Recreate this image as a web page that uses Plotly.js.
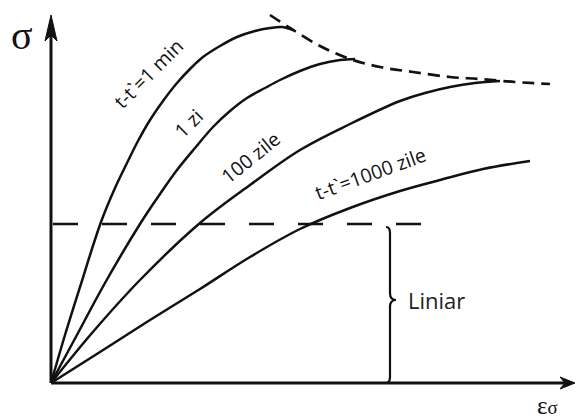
<!DOCTYPE html>
<html>
<head>
<meta charset="utf-8">
<script src="https://cdn.plot.ly/plotly-3.0.1.min.js"></script>
<style>html,body{margin:0;padding:0;background:#fff;}#chart{width:576px;height:419px;}</style>
</head>
<body>
<div id="chart"></div>
<script>
// Strain (ε) and stress (σ) values, arbitrary units
var eps1min = [0, 1.4, 2.9, 5.0, 6.4, 7.6, 8.7, 9.9, 11.2, 12.6, 13.9, 15.2, 16.9, 18.6, 20.4, 21.9, 23.1, 24.2];
var sig1min = [0, 4.8, 9.6, 16.1, 19.5, 22.0, 24.2, 26.3, 28.2, 30.0, 31.4, 32.6, 33.7, 34.6, 35.2, 35.5, 35.6, 35.3];

var eps1zi = [0, 2.7, 5.4, 8.9, 10.9, 12.6, 14.4, 16.2, 17.9, 19.6, 21.4, 22.9, 24.9, 26.9, 28.9, 30.4];
var sig1zi = [0, 5.0, 10.0, 15.9, 18.9, 21.3, 23.5, 25.6, 27.2, 28.5, 29.5, 30.3, 31.2, 31.9, 32.3, 32.4];

var eps100 = [0, 4.1, 8.9, 14.9, 19.9, 24.9, 29.9, 34.9, 37.4, 39.9, 42.4, 44.9];
var sig100 = [0, 5.0, 10.3, 16.0, 19.8, 23.3, 25.9, 28.2, 29.0, 29.6, 30.0, 30.2];

var eps1000 = [0, 4.9, 9.9, 14.9, 19.9, 24.9, 29.9, 34.9, 38.9, 43.2, 47.9];
var sig1000 = [0, 3.1, 6.3, 9.4, 12.6, 15.4, 17.5, 19.2, 20.3, 21.4, 22.2];

var epsEnv = [21.9, 23.9, 26.9, 29.9, 32.9, 36.2, 39.9, 42.9, 46.4, 49.9];
var sigEnv = [36.8, 35.5, 33.7, 32.4, 31.6, 31.1, 30.6, 30.4, 30.1, 29.9];

var linearLimit = 15.9;          // σ of the horizontal dashed line
var linearLineEps = [0.2, 37.4]; // extent of the dashed line
var braceEps = 33.9;             // ε where the "Liniar" brace sits
var braceTop = 15.6;
var axisEpsMax = 52.4;
var axisSigMax = 36.8;

var labels = [
  {text: "t-t`=1 min", x: 9.7, y: 31.0, angle: -45},
  {text: "1 zi", x: 13.7, y: 26.0, angle: -45},
  {text: "100 zile", x: 19.9, y: 22.6, angle: -39},
  {text: "t-t`=1000 zile", x: 31.9, y: 21.0, angle: -20}
];

var ink = "#111";
function curve(x, y) {
  return {x: x, y: y, type: "scatter", mode: "lines",
    line: {color: ink, width: 2.5, shape: "spline", smoothing: 1},
    hoverinfo: "skip", showlegend: false};
}
var traces = [
  curve(eps1min, sig1min), curve(eps1zi, sig1zi), curve(eps100, sig100), curve(eps1000, sig1000),
  {x: epsEnv, y: sigEnv, type: "scatter", mode: "lines",
    line: {color: ink, width: 2.7, dash: "12px,7px", shape: "spline", smoothing: 1},
    hoverinfo: "skip", showlegend: false},
  {x: linearLineEps, y: [linearLimit, linearLimit], type: "scatter", mode: "lines",
    line: {color: ink, width: 2.6, dash: "25px,24px"}, hoverinfo: "skip", showlegend: false}
];

// brace path built from the constants
var b = braceEps, mid = braceTop / 2 + 0.5;
var bracePath = "M" + (b - 0.4) + "," + braceTop +
  " Q" + b + "," + braceTop + " " + b + "," + (braceTop - 0.6) +
  " L" + b + "," + (mid + 0.7) +
  " Q" + b + "," + mid + " " + (b + 0.6) + "," + mid +
  " Q" + b + "," + mid + " " + b + "," + (mid - 0.7) +
  " L" + b + "," + 0.6 +
  " Q" + b + "," + 0 + " " + (b - 0.4) + "," + 0;

var shapes = [
  {type: "line", xref: "x", yref: "y", x0: 0, y0: 0, x1: axisEpsMax - 1.0, y1: 0, line: {color: ink, width: 3}},
  {type: "line", xref: "x", yref: "y", x0: 0, y0: 0, x1: 0, y1: axisSigMax - 1.5, line: {color: ink, width: 3}},
  {type: "path", xref: "x", yref: "y",
    path: "M0," + axisSigMax + " L-0.6," + (axisSigMax - 2.6) + " L0," + (axisSigMax - 2.0) + " L0.6," + (axisSigMax - 2.6) + " Z",
    fillcolor: ink, line: {color: ink, width: 1}},
  {type: "path", xref: "x", yref: "y",
    path: "M" + axisEpsMax + ",0 L" + (axisEpsMax - 1.5) + ",0.6 L" + (axisEpsMax - 1.0) + ",0 L" + (axisEpsMax - 1.5) + ",-0.6 Z",
    fillcolor: ink, line: {color: ink, width: 1}},
  {type: "path", xref: "x", yref: "y", path: bracePath, line: {color: ink, width: 2.2}}
];

var annotations = labels.map(function (l) {
  return {x: l.x, y: l.y, xref: "x", yref: "y", text: l.text, showarrow: false,
    textangle: l.angle, font: {family: "Open Sans, sans-serif", size: 19.5, color: ink}};
});
annotations.push({x: 38.5, y: 8.3, xref: "x", yref: "y", text: "Liniar", showarrow: false,
  font: {family: "Open Sans, sans-serif", size: 22, color: "#222"}});
annotations.push({x: -2.9, y: 34.8, xref: "x", yref: "y", text: "σ", showarrow: false,
  font: {family: "Liberation Serif, serif", size: 40, color: ink}});
annotations.push({x: 49.6, y: -2.2, xref: "x", yref: "y", height: 22,
  text: "ε<span style='font-size:19px'>σ</span>", showarrow: false,
  font: {family: "Liberation Serif, serif", size: 25, color: ink}});

var layout = {
  width: 576, height: 419,
  margin: {l: 0, r: 0, t: 0, b: 0},
  paper_bgcolor: "#fff", plot_bgcolor: "#fff",
  xaxis: {range: [-5.1, 52.5], visible: false, fixedrange: true},
  yaxis: {range: [-3.6, 38.3], visible: false, fixedrange: true},
  shapes: shapes, annotations: annotations, showlegend: false
};
Plotly.newPlot("chart", traces, layout, {staticPlot: true, displayModeBar: false});
</script>
</body>
</html>
